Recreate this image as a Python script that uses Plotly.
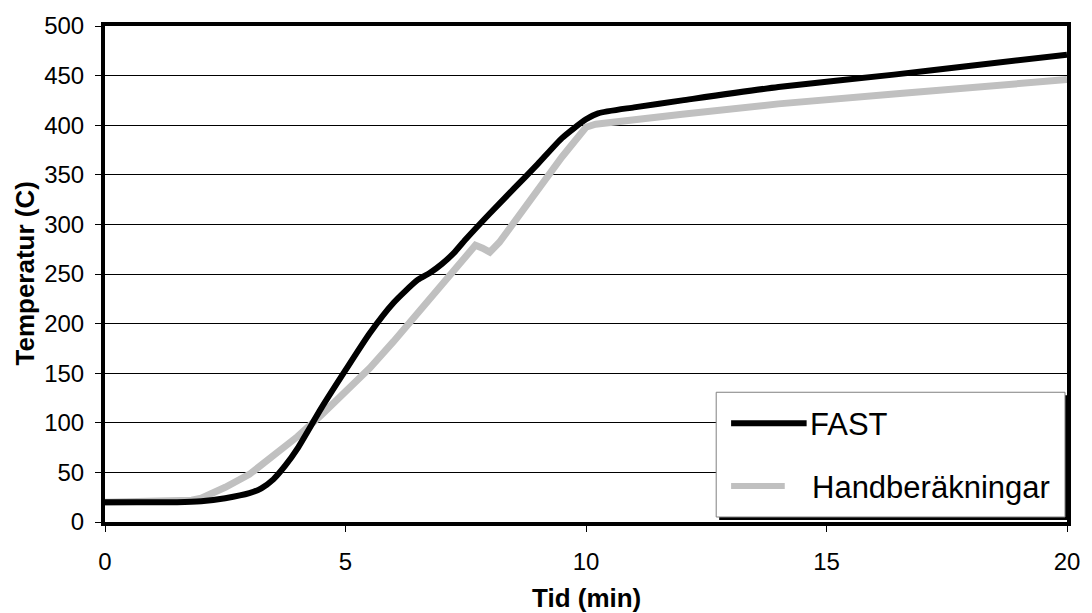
import plotly.graph_objects as go

# Time (min) and temperature (C) for each series
fast_t = [0, 1, 1.5, 2, 2.5, 3, 3.25, 3.5, 3.75, 4, 4.5, 5, 5.5, 6, 6.5, 6.75, 7, 7.25,
          7.5, 8, 8.5, 9, 9.5, 10, 10.25, 11, 12, 14, 16.4, 18, 20]
fast_T = [20, 20, 20, 21, 24, 29, 34, 43, 57, 74, 115, 153, 190, 221, 244, 251, 260, 271,
          285, 311, 336, 361, 387, 406, 412, 418, 425, 438.5, 451, 460, 471]

hand_t = [0, 1, 1.8, 2, 2.5, 3, 3.5, 4, 4.5, 5, 5.5, 6, 6.5, 7, 7.5, 7.7, 7.85, 8.0,
          8.2, 8.6, 9, 9.5, 10, 10.2, 12, 14, 16.4, 20]
hand_T = [20, 21, 22, 24, 35, 48, 66, 86, 108, 131, 155, 182, 210, 238, 266, 279, 276, 272,
          282, 309, 336, 368, 398, 401, 411, 421.5, 431.5, 446]

x_ticks = [0, 5, 10, 15, 20]
y_ticks = list(range(0, 501, 50))

FONT = "Liberation Sans, Arial, sans-serif"
GRAY = "#c0c0c0"

fig = go.Figure()
fig.add_trace(go.Scatter(x=hand_t, y=hand_T, mode="lines", name="Handberäkningar",
                         line=dict(color=GRAY, width=7), showlegend=False))
fig.add_trace(go.Scatter(x=fast_t, y=fast_T, mode="lines", name="FAST",
                         line=dict(color="black", width=6, shape="spline", smoothing=0.6),
                         showlegend=False))

W, H = 1092, 613
L, R, T, B = 105, 19, 25, 91
pw, ph = W - L - R, H - T - B


def px(x):
    return (x - L) / pw


def py(y):
    return (H - B - y) / ph


# Legend box with drop shadow
box = (720, 392, 1071, 517)
fig.add_shape(type="rect", xref="paper", yref="paper",
              x0=px(box[0] + 3), x1=px(box[2] + 3), y0=py(box[3] + 3), y1=py(box[1] + 3),
              fillcolor="black", line=dict(width=0), layer="above")
fig.add_shape(type="rect", xref="paper", yref="paper",
              x0=px(box[0]), x1=px(box[2]), y0=py(box[3]), y1=py(box[1]),
              fillcolor="white", line=dict(color="#808080", width=1), layer="above")
fig.add_shape(type="line", xref="paper", yref="paper",
              x0=px(735), x1=px(811), y0=py(423), y1=py(423),
              line=dict(color="black", width=6), layer="above")
fig.add_shape(type="line", xref="paper", yref="paper",
              x0=px(735), x1=px(789), y0=py(486), y1=py(486),
              line=dict(color=GRAY, width=6), layer="above")
fig.add_annotation(xref="paper", yref="paper", x=px(812), y=py(424), text="FAST",
                   showarrow=False, xanchor="left", yanchor="middle",
                   font=dict(family=FONT, size=31, color="black"))
fig.add_annotation(xref="paper", yref="paper", x=px(814), y=py(487), text="Handberäkningar",
                   showarrow=False, xanchor="left", yanchor="middle",
                   font=dict(family=FONT, size=31, color="black"))

# Axis titles
fig.add_annotation(xref="paper", yref="paper", x=0.5, y=py(598), text="<b>Tid (min)</b>",
                   showarrow=False, xanchor="center", yanchor="middle",
                   font=dict(family=FONT, size=26, color="black"))
fig.add_annotation(xref="paper", yref="paper", x=px(24), y=0.5, text="<b>Temperatur (C)</b>",
                   showarrow=False, xanchor="center", yanchor="middle", textangle=-90,
                   font=dict(family=FONT, size=26, color="black"))

fig.update_layout(
    width=W, height=H,
    margin=dict(l=L, r=R, t=T, b=B),
    paper_bgcolor="white", plot_bgcolor="white",
    font=dict(family=FONT, size=24, color="black"),
    xaxis=dict(range=[0, 20], tickvals=x_ticks, showgrid=False, zeroline=False,
               showline=True, linecolor="black", linewidth=4, mirror=True,
               ticks="outside", ticklen=6, tickcolor="black", tickwidth=1,
               tickfont=dict(size=24), ticklabelstandoff=9),
    yaxis=dict(range=[0, 500], tickvals=y_ticks, showgrid=True, gridcolor="black",
               gridwidth=1, zeroline=False,
               showline=True, linecolor="black", linewidth=4, mirror=True,
               ticks="outside", ticklen=6, tickcolor="black", tickwidth=1,
               tickfont=dict(size=24), ticklabelstandoff=6),
)

fig.write_html("out.html")
